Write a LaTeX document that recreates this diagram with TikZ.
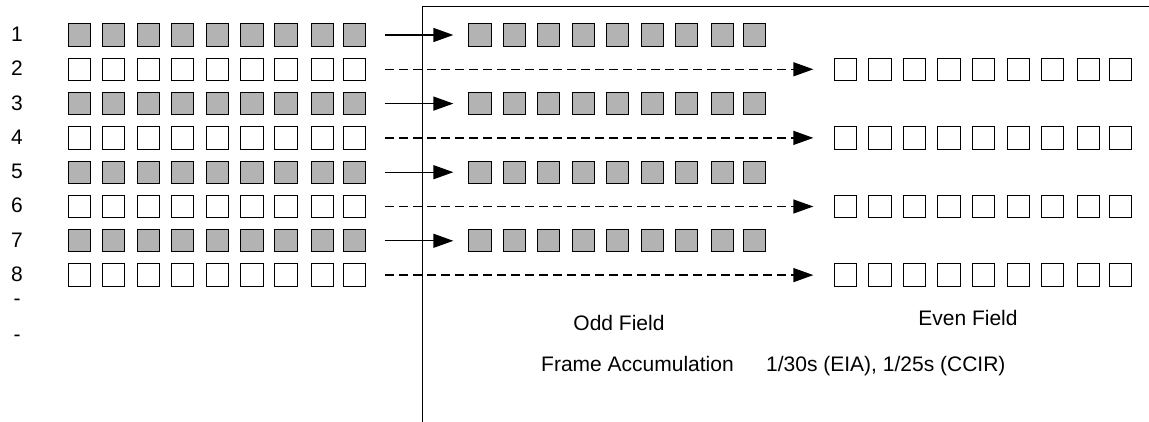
\documentclass[tikz,border=0pt]{standalone}
\usepackage{fontspec}
\setmainfont{Liberation Sans}
\usetikzlibrary{arrows.meta}
\definecolor{cellgray}{RGB}{179,179,179}
\begin{document}
\begin{tikzpicture}[x=1pt,y=-1pt,
  cell/.style={draw=black, line width=1pt, minimum size=22.3pt, inner sep=0pt, outer sep=0pt},
  oddcell/.style={cell, fill=cellgray},
  evencell/.style={cell, fill=white},
  rowlabel/.style={font=\fontsize{21}{21}\selectfont, inner sep=0pt},
  caption/.style={font=\fontsize{21}{21}\selectfont, inner sep=0pt},
  feed/.style={line width=1.3pt, -{Triangle[length=20pt,width=14pt]}},
  feeddash/.style={feed, dash pattern=on 9pt off 5pt}]
\useasboundingbox (0,0) rectangle (1149,422);

% frame enclosing the two fields
\coordinate (fbot) at (422.3,422);
\coordinate (fcorner) at (422.3,6.7);
\coordinate (fright) at (1149,6.7);
\draw[line width=1.3pt] (fbot) -- (fcorner) -- (fright);

% odd lines: scanned into the odd field
\foreach \r in {1,3,5,7} {
  \pgfmathsetmacro\yc{35+(\r-1)*34.3}
  \node[rowlabel] (lab\r) at (17,\yc-0.8) {\r};
  \foreach \c/\off in {1/0,2/34.2,3/68.8,4/103.2,5/137.8,6/172.5,7/206.5,8/242.8,9/274.8} {
    \node[oddcell] (L\r-\c) at (79.35+\off,\yc) {};
    \node[oddcell] (F\r-\c) at (479.95+\off,\yc) {};
  }
  \draw[feed] ([xshift=19.65pt]L\r-9.east) -- ([xshift=-15.45pt]F\r-1.west);
}

% even lines: scanned into the even field
\foreach \r in {2,4,6,8} {
  \pgfmathsetmacro\yc{35+(\r-1)*34.3}
  \node[rowlabel] (lab\r) at (17,\yc-0.8) {\r};
  \foreach \c/\off in {1/0,2/34.2,3/68.8,4/103.2,5/137.8,6/172.5,7/206.5,8/242.8,9/274.8} {
    \node[evencell] (L\r-\c) at (79.35+\off,\yc) {};
    \node[evencell] (E\r-\c) at (845.65+\off,\yc) {};
  }
  \draw[feeddash] ([xshift=19.65pt]L\r-9.east) -- ([xshift=-21.15pt]E\r-1.west);
}

% continuation marks
\node[rowlabel, anchor=base] (more1) at (17,305.7) {-};
\node[rowlabel, anchor=base] (more2) at (17,341.7) {-};

% captions
\node[caption, anchor=base] (odd) at (619,330.7) {Odd Field};
\node[caption, anchor=base] (even) at (968,325) {Even Field};
\node[caption, anchor=base west] (frame) at (541,371.7) {Frame Accumulation};
\node[caption, anchor=base west] (rate) at (766,371.7) {1/30s (EIA), 1/25s (CCIR)};
\end{tikzpicture}
\end{document}
